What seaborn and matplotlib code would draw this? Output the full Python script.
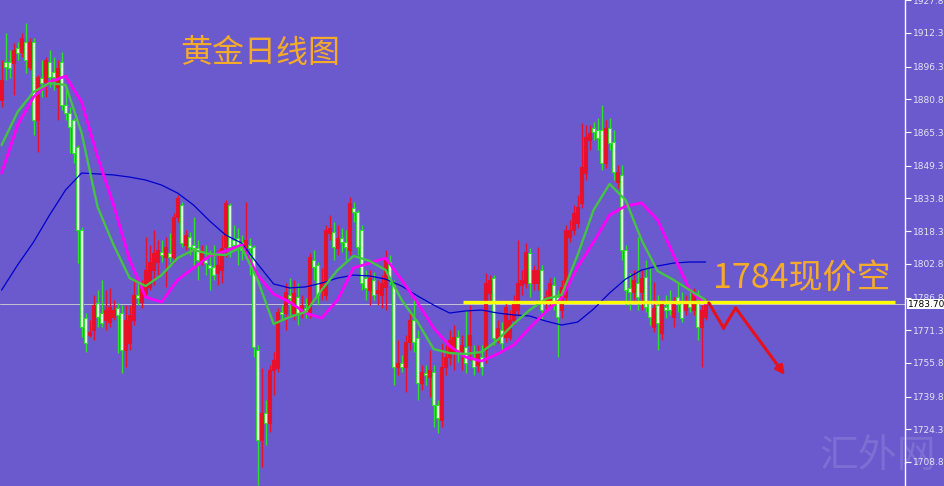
import numpy as np
import pandas as pd
import matplotlib
matplotlib.use("Agg")
import matplotlib.pyplot as plt
import matplotlib.transforms as mtransforms
import seaborn as sns

# ---------------- data ----------------
opens = [1880.6, 1898.6, 1898.6, 1898.1, 1905.2, 1903.3, 1908.1, 1896.2, 1908.1, 1871.1,
         1891.0, 1889.1, 1898.6, 1893.8, 1886.7, 1898.6, 1878.2, 1874.4, 1871.1, 1858.3,
         1818.9, 1777.1, 1769.1, 1771.4, 1784.3, 1779.5, 1776.2, 1775.2, 1777.6, 1781.9,
         1779.5, 1762.0, 1765.3, 1776.2, 1788.1, 1784.7, 1789.0, 1791.9, 1799.9, 1803.7,
         1808.5, 1806.1, 1808.0, 1806.1, 1825.1, 1830.7, 1811.8, 1815.6, 1811.8, 1810.3,
         1803.7, 1804.7, 1802.3, 1801.3, 1798.5, 1799.9, 1810.8, 1830.7, 1814.1, 1815.1,
         1813.2, 1809.4, 1811.8, 1810.8, 1762.0, 1719.3, 1732.1, 1727.3, 1752.5, 1753.4,
         1780.0, 1779.5, 1788.1, 1779.5, 1787.1, 1779.5, 1781.9, 1779.5, 1804.7, 1802.3,
         1790.4, 1788.1, 1817.5, 1817.9, 1810.3, 1815.1, 1813.2, 1809.4, 1829.3, 1827.4,
         1818.9, 1796.1, 1790.4, 1795.2, 1789.0, 1788.1, 1791.9, 1803.7, 1792.8, 1753.9,
         1755.8, 1753.9, 1765.8, 1776.2, 1767.7, 1746.3, 1751.0, 1749.2, 1751.5, 1735.9,
         1728.8, 1753.9, 1758.6, 1760.5, 1768.1, 1760.5, 1763.4, 1764.3, 1758.2, 1754.8,
         1758.6, 1762.0, 1789.0, 1796.1, 1767.7, 1771.4, 1768.1, 1768.1, 1776.2, 1780.9,
         1792.8, 1793.7, 1808.0, 1793.7, 1793.7, 1799.9, 1784.3, 1784.3, 1792.8, 1787.1,
         1780.9, 1787.1, 1815.6, 1818.9, 1822.2, 1831.7, 1845.9, 1861.6, 1867.3, 1866.3,
         1866.3, 1850.7, 1867.3, 1860.6, 1841.7, 1845.0, 1809.4, 1791.4, 1789.5, 1793.7,
         1789.5, 1796.6, 1784.3, 1772.9, 1783.3, 1770.0, 1782.4, 1784.3, 1777.6, 1787.1,
         1784.3, 1780.9, 1784.7, 1780.9, 1784.7, 1772.9, 1777.6]

highs = [1899.5, 1912.3, 1904.3, 1907.6, 1908.1, 1912.3, 1917.1, 1910.0, 1910.0, 1892.4,
         1899.5, 1901.0, 1904.3, 1901.0, 1899.5, 1903.3, 1886.7, 1877.2, 1872.0, 1859.2,
         1820.3, 1779.5, 1776.2, 1788.1, 1790.4, 1795.2, 1790.4, 1791.4, 1785.7, 1784.3,
         1783.3, 1783.3, 1783.3, 1795.2, 1795.2, 1795.2, 1815.6, 1811.8, 1818.9, 1814.1,
         1814.1, 1815.6, 1817.5, 1826.9, 1835.5, 1832.2, 1818.9, 1817.9, 1825.1, 1814.1,
         1811.8, 1811.8, 1809.4, 1811.8, 1809.4, 1816.5, 1833.1, 1831.7, 1821.3, 1819.8,
         1816.5, 1832.2, 1815.1, 1811.8, 1764.3, 1753.4, 1738.2, 1754.8, 1761.0, 1781.9,
         1783.3, 1793.7, 1796.1, 1795.2, 1793.7, 1788.1, 1786.6, 1808.0, 1809.4, 1803.7,
         1800.9, 1821.3, 1826.0, 1822.7, 1821.3, 1819.8, 1818.9, 1834.5, 1832.2, 1828.4,
         1821.3, 1799.9, 1799.9, 1799.0, 1795.2, 1797.5, 1809.4, 1807.0, 1795.2, 1766.7,
         1759.6, 1769.1, 1780.9, 1787.1, 1771.4, 1754.8, 1754.8, 1762.0, 1754.8, 1738.2,
         1765.3, 1764.3, 1771.4, 1773.8, 1771.4, 1769.1, 1780.9, 1783.3, 1764.3, 1764.3,
         1764.3, 1798.5, 1797.5, 1797.5, 1776.2, 1775.2, 1785.7, 1780.9, 1788.1, 1814.1,
         1799.9, 1812.7, 1810.3, 1802.3, 1810.8, 1802.3, 1790.4, 1796.1, 1796.6, 1790.4,
         1795.2, 1821.3, 1823.6, 1830.7, 1835.5, 1869.6, 1868.7, 1868.7, 1870.1, 1872.0,
         1878.2, 1871.1, 1872.0, 1866.3, 1849.7, 1849.7, 1811.8, 1798.5, 1799.9, 1815.6,
         1799.9, 1804.7, 1801.3, 1794.2, 1788.1, 1785.7, 1788.1, 1790.4, 1787.1, 1793.7,
         1789.5, 1788.1, 1790.4, 1791.4, 1790.4, 1783.3, 1786.6]

lows = [1877.2, 1890.0, 1891.0, 1882.9, 1899.5, 1901.0, 1893.4, 1894.8, 1864.0, 1855.9,
        1882.0, 1882.0, 1886.7, 1885.3, 1871.1, 1875.8, 1871.1, 1855.4, 1850.7, 1803.2,
        1768.1, 1761.0, 1768.1, 1766.7, 1772.9, 1772.9, 1771.4, 1772.9, 1776.2, 1760.5,
        1751.0, 1753.9, 1762.0, 1773.8, 1783.3, 1781.9, 1787.1, 1790.4, 1792.8, 1797.5,
        1803.7, 1791.9, 1803.7, 1803.2, 1822.7, 1810.8, 1809.4, 1807.0, 1801.3, 1795.2,
        1802.3, 1797.5, 1790.4, 1795.2, 1792.8, 1793.7, 1806.1, 1806.1, 1809.4, 1802.3,
        1804.7, 1807.0, 1797.5, 1758.6, 1697.9, 1706.5, 1716.9, 1723.1, 1740.6, 1751.5,
        1776.2, 1771.4, 1778.6, 1776.2, 1773.8, 1777.1, 1777.1, 1777.1, 1795.2, 1783.3,
        1785.7, 1785.7, 1814.1, 1804.7, 1807.0, 1808.5, 1804.7, 1807.0, 1822.7, 1807.0,
        1790.4, 1785.7, 1783.3, 1785.7, 1783.3, 1781.9, 1780.9, 1792.8, 1745.4, 1750.1,
        1751.5, 1742.0, 1762.0, 1761.0, 1738.2, 1743.0, 1745.4, 1739.7, 1725.4, 1722.6,
        1725.4, 1750.1, 1754.8, 1752.5, 1756.3, 1752.5, 1751.0, 1757.2, 1750.1, 1751.5,
        1750.1, 1755.8, 1785.7, 1764.3, 1765.3, 1762.0, 1765.8, 1766.7, 1773.8, 1778.6,
        1788.1, 1791.4, 1787.1, 1790.4, 1790.4, 1776.2, 1780.9, 1781.9, 1780.9, 1758.6,
        1777.1, 1784.7, 1813.2, 1816.5, 1819.8, 1829.3, 1842.6, 1856.8, 1861.6, 1856.8,
        1847.4, 1848.3, 1856.8, 1842.6, 1838.8, 1804.7, 1783.3, 1780.9, 1785.7, 1780.9,
        1780.9, 1780.0, 1773.8, 1770.5, 1762.0, 1766.7, 1777.1, 1778.6, 1772.9, 1780.0,
        1775.2, 1778.6, 1780.0, 1778.6, 1766.7, 1753.9, 1776.2]

closes = [1890.0, 1896.2, 1895.7, 1904.3, 1902.9, 1910.0, 1899.5, 1908.1, 1871.1, 1891.5,
          1888.6, 1899.5, 1891.5, 1891.5, 1895.7, 1878.2, 1874.4, 1867.8, 1855.4, 1818.9,
          1772.9, 1765.3, 1770.5, 1783.3, 1777.6, 1774.8, 1780.9, 1782.4, 1780.9, 1778.6,
          1762.0, 1776.2, 1778.6, 1788.1, 1786.6, 1791.9, 1799.9, 1803.7, 1808.0, 1809.4,
          1807.0, 1810.8, 1806.1, 1825.1, 1834.1, 1812.7, 1816.5, 1810.8, 1810.3, 1804.7,
          1808.0, 1803.2, 1800.9, 1797.5, 1802.3, 1810.3, 1831.7, 1810.8, 1811.8, 1810.8,
          1809.4, 1814.1, 1810.3, 1763.4, 1719.3, 1732.1, 1727.3, 1752.5, 1757.2, 1780.0,
          1779.0, 1789.5, 1786.6, 1789.0, 1779.5, 1783.3, 1780.0, 1806.1, 1801.3, 1788.1,
          1793.7, 1818.9, 1819.8, 1810.8, 1815.1, 1813.2, 1810.8, 1831.7, 1827.4, 1810.8,
          1793.7, 1791.4, 1796.1, 1788.1, 1790.4, 1793.7, 1804.7, 1795.2, 1753.9, 1755.8,
          1753.9, 1765.8, 1776.2, 1765.8, 1746.3, 1751.5, 1750.1, 1752.5, 1735.9, 1729.7,
          1753.9, 1758.6, 1766.7, 1768.1, 1762.0, 1764.3, 1755.8, 1769.1, 1753.9, 1760.5,
          1753.9, 1793.7, 1795.2, 1767.7, 1772.4, 1765.3, 1782.4, 1776.2, 1784.3, 1793.7,
          1795.2, 1808.5, 1793.7, 1799.9, 1799.9, 1780.9, 1787.1, 1793.7, 1784.3, 1777.6,
          1791.9, 1818.9, 1818.9, 1826.9, 1829.8, 1848.8, 1863.0, 1864.9, 1865.4, 1862.5,
          1850.7, 1867.3, 1860.2, 1846.4, 1846.4, 1809.4, 1790.4, 1789.5, 1795.2, 1787.1,
          1796.1, 1782.4, 1777.6, 1781.9, 1774.8, 1784.3, 1780.9, 1780.9, 1784.3, 1784.3,
          1777.1, 1784.3, 1782.4, 1789.5, 1772.9, 1780.9, 1783.7]

# moving averages, read every 4th bar
ma_bar = list(range(0, 177, 4))
ma_fast = [1859.2, 1874.9, 1884.4, 1888.6, 1887.7, 1864.9, 1829.8, 1811.8, 1796.1, 1792.3,
           1797.5, 1805.6, 1809.4, 1807.5, 1807.0, 1810.8, 1795.2, 1774.3, 1777.6, 1780.0,
           1790.4, 1799.9, 1806.6, 1804.2, 1799.9, 1785.7, 1775.2, 1762.4, 1760.5, 1760.1,
           1761.0, 1766.7, 1774.3, 1780.9, 1786.2, 1788.1, 1807.0, 1828.4, 1840.7, 1833.1,
           1814.1, 1799.4, 1795.2, 1790.4, 1785.7]
ma_mid = [1845.9, 1868.7, 1882.0, 1889.1, 1891.9, 1879.6, 1853.5, 1830.7, 1804.7, 1787.1,
          1784.7, 1795.2, 1800.9, 1806.6, 1808.9, 1811.8, 1797.5, 1788.5, 1784.7, 1779.5,
          1777.1, 1785.7, 1800.9, 1803.2, 1805.6, 1795.2, 1784.3, 1772.4, 1763.9, 1758.6,
          1756.7, 1760.1, 1764.3, 1772.4, 1780.0, 1786.6, 1801.3, 1813.2, 1826.0, 1830.3,
          1831.7, 1823.6, 1807.0, 1790.4, 1783.8]
ma_slow = [1790.4, 1802.3, 1813.2, 1826.0, 1837.9, 1845.9, 1845.5, 1845.0, 1844.0, 1842.6,
           1840.2, 1836.4, 1830.7, 1823.2, 1816.5, 1812.7, 1802.8, 1793.3, 1791.4, 1791.9,
           1793.7, 1796.1, 1797.5, 1797.1, 1795.6, 1792.3, 1787.6, 1783.3, 1779.5, 1780.5,
           1780.9, 1779.5, 1778.6, 1778.1, 1775.7, 1773.8, 1775.2, 1781.4, 1789.0, 1795.6,
           1799.9, 1801.8, 1803.2, 1803.7, 1803.7]

tick_values = [1927.86, 1912.35, 1896.37, 1880.86, 1865.35, 1849.37, 1833.86, 1818.35,
               1802.84, 1786.86, 1771.35, 1755.84, 1739.86, 1724.35, 1708.84]
last_price = 1783.70
short_level = 1784.5
title_text = "黄金日线图"
note_text = "1784现价空"
watermark_text = "汇外网"

# ---------------- style ----------------
sns.set_style("white")
plt.rcParams["font.family"] = ["Noto Sans CJK SC", "DejaVu Sans"]
plt.rcParams["axes.unicode_minus"] = False

BG = "#6A5ACD"
UP = "#E8102A"
DOWN_EDGE = "#2EE02E"
DOWN_FACE = "#EFFFEF"

W, H = 944, 486
PLOT_W = 905
fig = plt.figure(figsize=(W / 100, H / 100), dpi=100)
fig.patch.set_facecolor(BG)
ax = fig.add_axes([0, 0, PLOT_W / W, 1])
ax.set_facecolor(BG)

df = pd.DataFrame({"open": opens, "high": highs, "low": lows, "close": closes})
df["bar"] = np.arange(len(df))
df["up"] = df["close"] >= df["open"]

# current price line
ax.axhline(last_price, color="#c4c4d4", lw=0.7, zorder=1)

# candles
for up, sub in df.groupby("up"):
    col_wick = UP if up else DOWN_EDGE
    ax.vlines(sub["bar"], sub["low"], sub["high"], color=col_wick, lw=1.0, zorder=2)
    bottom = np.minimum(sub["open"], sub["close"])
    height = np.maximum(np.abs(sub["close"] - sub["open"]), 0.7)
    ax.bar(sub["bar"], height, bottom=bottom, width=0.72,
           color=UP if up else DOWN_FACE,
           edgecolor=UP if up else DOWN_EDGE, linewidth=0.8, zorder=3)

# moving averages
ma = pd.DataFrame({"bar": ma_bar, "fast": ma_fast, "mid": ma_mid, "slow": ma_slow})
sns.lineplot(data=ma, x="bar", y="slow", ax=ax, color="#0000CC", lw=0.9, zorder=4)
sns.lineplot(data=ma, x="bar", y="mid", ax=ax, color="#FF00FF", lw=2.0, zorder=5)
sns.lineplot(data=ma, x="bar", y="fast", ax=ax, color="#44C444", lw=1.7, zorder=6)

# yellow short level
ax.hlines(short_level, 115.3, 223.3, color="#FFFF00", lw=2.4, zorder=7)

# red zigzag arrow
RED = "#E8101A"
ax.plot([176.8, 180.5, 183.5], [1784.3, 1772.4, 1781.9], color=RED, lw=2.2,
        solid_joinstyle="miter", zorder=8)
ax.annotate("", xy=(195.8, 1750.1), xytext=(183.5, 1781.9),
            arrowprops=dict(arrowstyle="-|>", color=RED, lw=2.2, mutation_scale=13,
                            shrinkA=0, shrinkB=0), zorder=8)

# axes
ax.set_xlim(-0.4, PLOT_W / 4 - 0.4)
ax.set_ylim(1697.44, 1928.0)
ax.set_xlabel("")
ax.set_ylabel("")
ax.yaxis.tick_right()
ax.set_yticks(tick_values)
ax.set_yticklabels([f"{v:.2f}" for v in tick_values], family="DejaVu Sans")
ax.tick_params(axis="y", color="white", labelcolor="#E4E4F0", labelsize=6.5,
               length=4, width=0.8, pad=2, direction="out")
ax.tick_params(axis="x", bottom=False, labelbottom=False)
for s in ["top", "left", "bottom"]:
    ax.spines[s].set_visible(False)
ax.spines["right"].set_color("white")
ax.spines["right"].set_linewidth(1.0)
ax.grid(False)

# current price tag
trans = mtransforms.blended_transform_factory(ax.transAxes, ax.transData)
ax.text(1.003, last_price, f"{last_price:.2f}", transform=trans, ha="left", va="center",
        fontsize=6.5, family="DejaVu Sans", color="black", clip_on=False, zorder=10,
        bbox=dict(facecolor="white", edgecolor="none", pad=0.6))

# texts
ORANGE = "#F5AA2A"
fig.text(180 / W, 1 - 53 / H, title_text, fontsize=23, color=ORANGE, ha="left", va="center")
fig.text(713 / W, 1 - 279 / H, note_text, fontsize=24.5, color=ORANGE, ha="left", va="center",
         family=["Noto Sans CJK SC", "DejaVu Sans"])
fig.text(878 / W, 1 - 456 / H, watermark_text, fontsize=28, color="white", alpha=0.12,
         ha="center", va="center")

fig.savefig("out.png", dpi=100, facecolor=BG)
